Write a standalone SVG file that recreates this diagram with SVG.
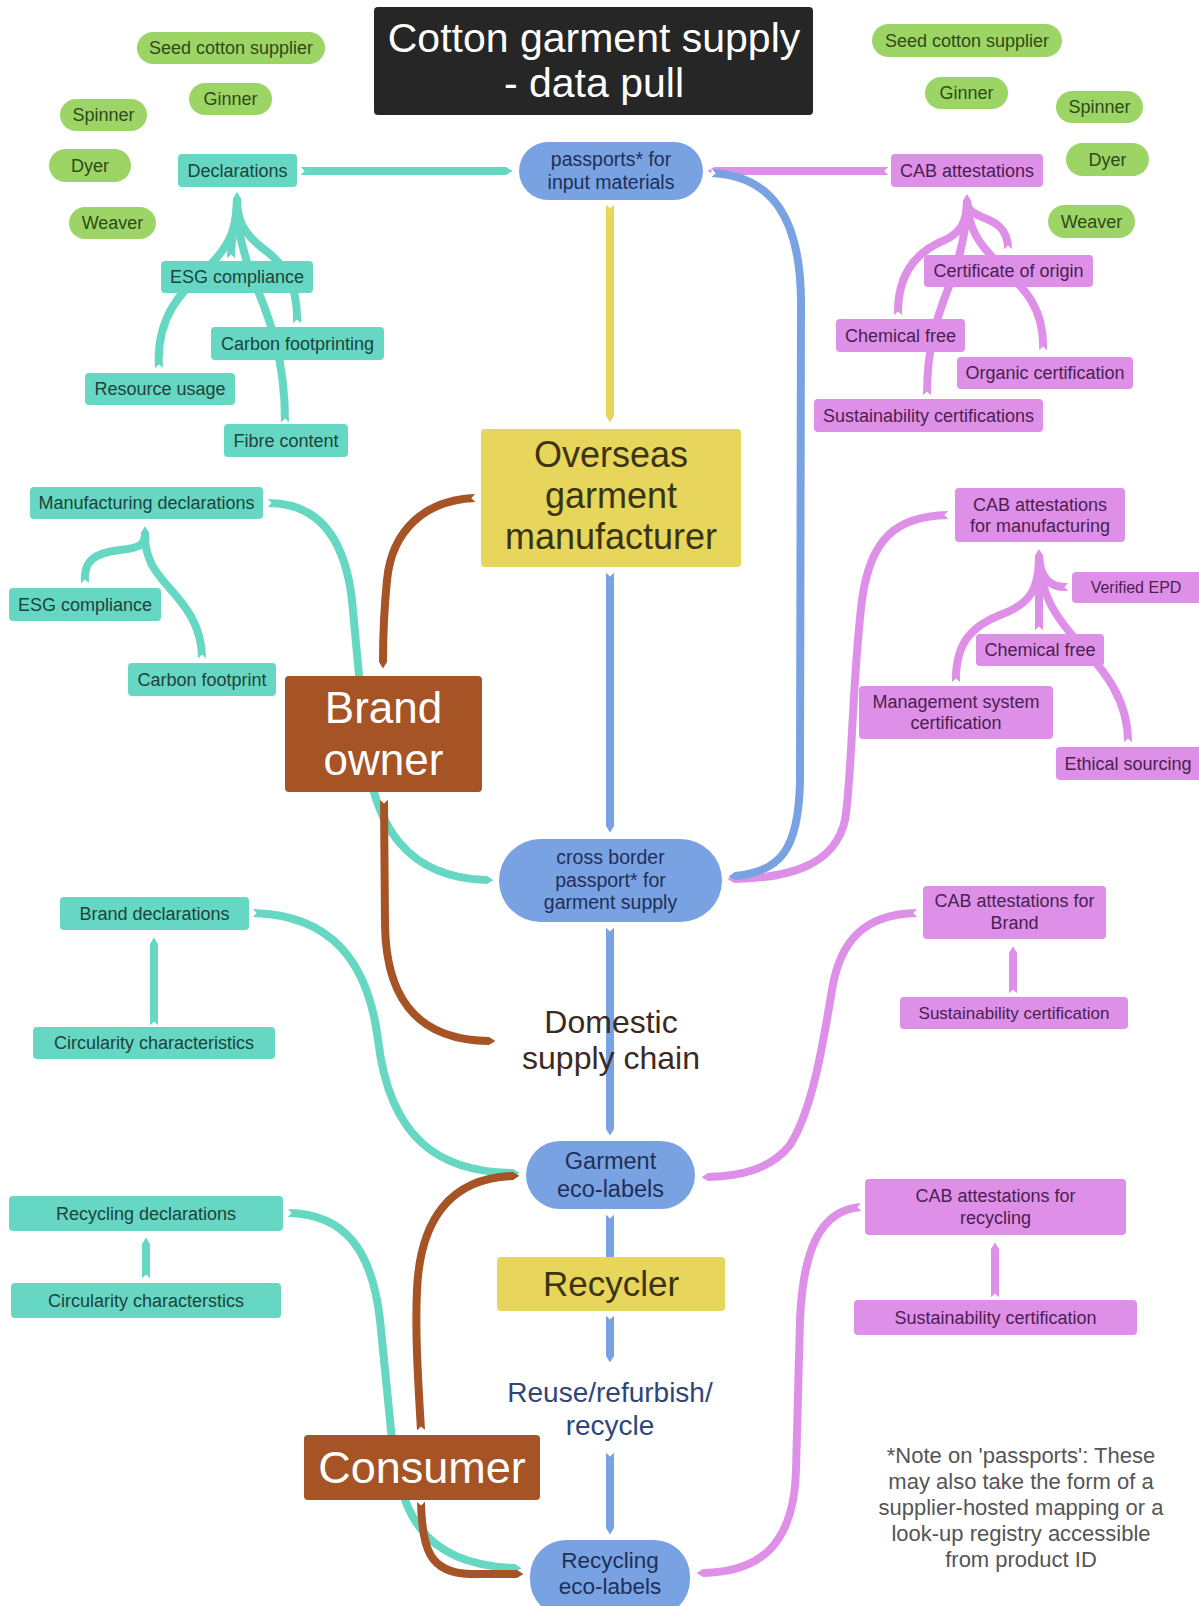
<svg xmlns="http://www.w3.org/2000/svg" width="1199" height="1606" viewBox="0 0 1199 1606">
<style>
text{font-family:'Liberation Sans',Arial,Helvetica,sans-serif;text-anchor:middle}
.ln{fill:none;stroke-width:8;stroke-linecap:butt;stroke-linejoin:round;marker-start:url(#nt)}
.t{stroke:#66d7c2;marker-end:url(#pt)}
.p{stroke:#de90e8;marker-end:url(#pp)}
.b{stroke:#79a2e3;marker-end:url(#pb)}
.y{stroke:#e8d55b;marker-end:url(#py)}
.r{stroke:#a65325;marker-end:url(#pr)}
.gn rect{fill:#9cd565}.gn text{fill:#2d4a18;font-size:18px}
.tn rect{fill:#66d7c2}.tn text{fill:#1d433d;font-size:18px}
.pn rect{fill:#de90e8}.pn text{fill:#4a2050;font-size:18px}
.bn rect{fill:#79a2e3}.bn text{fill:#1f2f57}
.yn rect{fill:#e8d55b}.yn text{fill:#3b3412}
.rn rect{fill:#a65325}.rn text{fill:#ffffff}
</style>
<defs>
<marker id="nt" viewBox="-0.1 -0.6 0.7 1.2" refX="0" refY="0" markerWidth="0.7" markerHeight="1.2" orient="auto" markerUnits="strokeWidth" overflow="visible"><path d="M-0.08,-0.56 L0.45,0 L-0.08,0.56 Z" fill="#ffffff"/></marker>
<marker id="pt" viewBox="-0.1 -0.5 0.9 1" refX="0" refY="0" markerWidth="0.9" markerHeight="1" orient="auto" markerUnits="strokeWidth" overflow="visible"><path d="M-0.1,-0.5 L0,-0.5 L0.8,0 L0,0.5 L-0.1,0.5 Z" fill="#66d7c2"/></marker>
<marker id="pp" viewBox="-0.1 -0.5 0.9 1" refX="0" refY="0" markerWidth="0.9" markerHeight="1" orient="auto" markerUnits="strokeWidth" overflow="visible"><path d="M-0.1,-0.5 L0,-0.5 L0.8,0 L0,0.5 L-0.1,0.5 Z" fill="#de90e8"/></marker>
<marker id="pb" viewBox="-0.1 -0.5 0.9 1" refX="0" refY="0" markerWidth="0.9" markerHeight="1" orient="auto" markerUnits="strokeWidth" overflow="visible"><path d="M-0.1,-0.5 L0,-0.5 L0.8,0 L0,0.5 L-0.1,0.5 Z" fill="#79a2e3"/></marker>
<marker id="py" viewBox="-0.1 -0.5 0.9 1" refX="0" refY="0" markerWidth="0.9" markerHeight="1" orient="auto" markerUnits="strokeWidth" overflow="visible"><path d="M-0.1,-0.5 L0,-0.5 L0.8,0 L0,0.5 L-0.1,0.5 Z" fill="#e8d55b"/></marker>
<marker id="pr" viewBox="-0.1 -0.5 0.9 1" refX="0" refY="0" markerWidth="0.9" markerHeight="1" orient="auto" markerUnits="strokeWidth" overflow="visible"><path d="M-0.1,-0.5 L0,-0.5 L0.8,0 L0,0.5 L-0.1,0.5 Z" fill="#a65325"/></marker>
</defs>
<rect width="1199" height="1606" fill="#ffffff"/>

<g id="connectors">
<!-- teal -->
<path class="ln t" d="M301,171 L506,171"/>
<path class="ln t" d="M231,258 C231,232 237,222 237,199"/>
<path class="ln t" d="M159,368 C155,310 190,285 210,265 C232,243 237,225 237,199"/>
<path class="ln t" d="M285,422 C285,340 260,300 248,265 C240,240 237,225 237,199"/>
<path class="ln t" d="M297,323 C298,285 285,265 265,250 C245,235 237,222 237,199"/>
<path class="ln t" d="M268,503 C320,503 345,540 352,600 L365,740 C372,830 410,878 487,880"/>
<path class="ln t" d="M85,583 C83,560 95,553 120,550 C140,548 145,545 145,533"/>
<path class="ln t" d="M202,658 C202,610 165,590 152,565 C146,552 145,545 145,533"/>
<path class="ln t" d="M253,913 C330,915 368,960 378,1040 C390,1140 440,1172 513,1173"/>
<path class="ln t" d="M154,1025 L154,944"/>
<path class="ln t" d="M288,1213 C345,1214 372,1250 380,1320 L391,1430 C398,1510 420,1565 515,1568"/>
<path class="ln t" d="M146,1278 L146,1244"/>
<!-- pink -->
<path class="ln p" d="M888,171 L714,171"/>
<path class="ln p" d="M1008,249 C1008,228 995,222 982,217 C970,212 967,208 967,201"/>
<path class="ln p" d="M898,315 C897,270 920,250 945,240 C962,232 967,220 967,201"/>
<path class="ln p" d="M1043,350 C1045,305 1020,285 1000,265 C980,245 968,230 967,201"/>
<path class="ln p" d="M927,395 C927,330 945,300 955,270 C963,245 967,225 967,201"/>
<path class="ln p" d="M948,515 C895,516 870,540 862,600 C852,680 852,780 845,820 C835,865 790,878 734,879"/>
<path class="ln p" d="M1068,587 C1050,588 1040,578 1039,556"/>
<path class="ln p" d="M1039,630 L1039,556"/>
<path class="ln p" d="M956,682 C955,640 975,625 1000,615 C1030,604 1039,590 1039,556"/>
<path class="ln p" d="M1128,742 C1128,700 1105,672 1085,650 C1055,617 1040,595 1039,556"/>
<path class="ln p" d="M917,913 C865,914 840,940 832,990 C822,1050 812,1110 790,1145 C770,1170 740,1176 708,1177"/>
<path class="ln p" d="M1013,993 L1013,953"/>
<path class="ln p" d="M861,1207 C820,1210 803,1250 800,1320 L796,1470 C794,1545 760,1572 703,1573"/>
<path class="ln p" d="M995,1297 L995,1249"/>
<!-- blue -->
<path class="ln b" d="M712,173 C770,176 800,215 801,300 L800,780 C799,850 780,872 735,876"/>
<path class="ln b" d="M610,573 L610,826"/>
<path class="ln b" d="M610,928 L610,1129"/>
<path class="ln b" d="M610,1215 L610,1257"/>
<path class="ln b" d="M610,1316 L610,1356"/>
<path class="ln b" d="M610,1453 L610,1528"/>
<!-- yellow -->
<path class="ln y" d="M610,205 L610,416"/>
<!-- brown -->
<path class="ln r" d="M475,498 C425,500 392,530 387,580 C384,610 383,640 383,662"/>
<path class="ln r" d="M384,800 L385,925 C386,990 410,1040 489,1041"/>
<path class="ln r" d="M421,1430 C418,1380 415,1330 417,1290 C420,1220 450,1178 513,1176"/>
<path class="ln r" d="M421,1502 C422,1550 430,1573 470,1574 L517,1574"/>
</g>

<g id="title"><rect x="374" y="7" width="439" height="108" rx="4" fill="#262626"/><text x="594" y="52" font-size="41" fill="#ffffff">Cotton garment supply</text><text x="594" y="97" font-size="41" fill="#ffffff">- data pull</text></g>

<g id="seed-l" class="gn"><rect x="137" y="32" width="188" height="32" rx="16"/><text x="231" y="54">Seed cotton supplier</text></g>
<g id="ginner-l" class="gn"><rect x="189" y="83" width="83" height="32" rx="16"/><text x="230.5" y="105">Ginner</text></g>
<g id="spinner-l" class="gn"><rect x="60" y="99" width="87" height="32" rx="16"/><text x="103.5" y="121">Spinner</text></g>
<g id="dyer-l" class="gn"><rect x="49" y="149" width="82" height="33" rx="16.5"/><text x="90" y="171.5">Dyer</text></g>
<g id="weaver-l" class="gn"><rect x="69" y="207" width="87" height="32" rx="16"/><text x="112.5" y="229">Weaver</text></g>
<g id="seed-r" class="gn"><rect x="872" y="24" width="190" height="33" rx="16.5"/><text x="967" y="46.5">Seed cotton supplier</text></g>
<g id="ginner-r" class="gn"><rect x="925" y="77" width="83" height="32" rx="16"/><text x="966.5" y="99">Ginner</text></g>
<g id="spinner-r" class="gn"><rect x="1056" y="91" width="87" height="32" rx="16"/><text x="1099.5" y="113">Spinner</text></g>
<g id="dyer-r" class="gn"><rect x="1066" y="143" width="83" height="33" rx="16.5"/><text x="1107.5" y="165.5">Dyer</text></g>
<g id="weaver-r" class="gn"><rect x="1048" y="205" width="87" height="33" rx="16.5"/><text x="1091.5" y="227.5">Weaver</text></g>

<g id="declarations" class="tn"><rect x="178" y="154" width="119" height="33" rx="4"/><text x="237.5" y="176.5">Declarations</text></g>
<g id="esg1" class="tn"><rect x="161" y="261" width="152" height="32" rx="4"/><text x="237" y="283">ESG compliance</text></g>
<g id="carbon1" class="tn"><rect x="211" y="327" width="173" height="33" rx="4"/><text x="297.5" y="349.5">Carbon footprinting</text></g>
<g id="resource" class="tn"><rect x="85" y="373" width="150" height="32" rx="4"/><text x="160" y="395">Resource usage</text></g>
<g id="fibre" class="tn"><rect x="224" y="424" width="124" height="33" rx="4"/><text x="286" y="446.5">Fibre content</text></g>
<g id="mfg-decl" class="tn"><rect x="30" y="487" width="233" height="32" rx="4"/><text x="146.5" y="509">Manufacturing declarations</text></g>
<g id="esg2" class="tn"><rect x="9" y="588" width="152" height="33" rx="4"/><text x="85" y="610.5">ESG compliance</text></g>
<g id="carbon2" class="tn"><rect x="128" y="663" width="148" height="33" rx="4"/><text x="202" y="685.5">Carbon footprint</text></g>
<g id="brand-decl" class="tn"><rect x="60" y="897" width="189" height="33" rx="4"/><text x="154.5" y="919.5">Brand declarations</text></g>
<g id="circ1" class="tn"><rect x="33" y="1027" width="242" height="32" rx="4"/><text x="154" y="1049">Circularity characteristics</text></g>
<g id="recyc-decl" class="tn"><rect x="9" y="1196" width="274" height="35" rx="4"/><text x="146" y="1220">Recycling declarations</text></g>
<g id="circ2" class="tn"><rect x="11" y="1283" width="270" height="35" rx="4"/><text x="146" y="1307">Circularity characterstics</text></g>

<g id="cab1" class="pn"><rect x="891" y="154" width="152" height="33" rx="4"/><text x="967" y="176.5">CAB attestations</text></g>
<g id="origin" class="pn"><rect x="924" y="255" width="169" height="32" rx="4"/><text x="1008.5" y="277">Certificate of origin</text></g>
<g id="chem1" class="pn"><rect x="836" y="319" width="129" height="33" rx="4"/><text x="900.5" y="341.5">Chemical free</text></g>
<g id="organic" class="pn"><rect x="957" y="357" width="176" height="32" rx="4"/><text x="1045" y="379">Organic certification</text></g>
<g id="sust1" class="pn"><rect x="814" y="399" width="229" height="33" rx="4"/><text x="928.5" y="421.5">Sustainability certifications</text></g>
<g id="cab-mfg" class="pn"><rect x="955" y="488" width="170" height="54" rx="4"/><text x="1040" y="511">CAB attestations</text><text x="1040" y="532">for manufacturing</text></g>
<g id="epd" class="pn"><rect x="1072" y="572" width="135" height="31" rx="4"/><text x="1136" y="593" style="font-size:16px">Verified EPD</text></g>
<g id="chem2" class="pn"><rect x="976" y="634" width="128" height="32" rx="4"/><text x="1040" y="656">Chemical free</text></g>
<g id="mgmt" class="pn"><rect x="859" y="686" width="194" height="53" rx="4"/><text x="956" y="708">Management system</text><text x="956" y="729">certification</text></g>
<g id="ethical" class="pn"><rect x="1056" y="747" width="150" height="33" rx="4"/><text x="1128" y="770">Ethical sourcing</text></g>
<g id="cab-brand" class="pn"><rect x="923" y="886" width="183" height="53" rx="4"/><text x="1014.5" y="907">CAB attestations for</text><text x="1014.5" y="929">Brand</text></g>
<g id="sust2" class="pn"><rect x="900" y="997" width="228" height="32" rx="4"/><text x="1014" y="1019" style="font-size:17px">Sustainability certification</text></g>
<g id="cab-recyc" class="pn"><rect x="865" y="1179" width="261" height="56" rx="4"/><text x="995.5" y="1202">CAB attestations for</text><text x="995.5" y="1224">recycling</text></g>
<g id="sust3" class="pn"><rect x="854" y="1300" width="283" height="35" rx="4"/><text x="995.5" y="1324">Sustainability certification</text></g>

<g id="passports" class="bn"><rect x="519" y="142" width="184" height="58" rx="29"/><text x="611" y="166" font-size="19.5">passports* for</text><text x="611" y="189" font-size="19.5">input materials</text></g>
<g id="cross-border" class="bn"><rect x="499" y="839" width="223" height="83" rx="41.5"/><text x="610.5" y="864" font-size="19.5">cross border</text><text x="610.5" y="887" font-size="19.5">passport* for</text><text x="610.5" y="909" font-size="19.5">garment supply</text></g>
<g id="garment-eco" class="bn"><rect x="526" y="1141" width="169" height="68" rx="34"/><text x="610.5" y="1169" font-size="23.5">Garment</text><text x="610.5" y="1197" font-size="23.5">eco-labels</text></g>
<g id="recycling-eco" class="bn"><rect x="530" y="1540" width="160" height="76" rx="36"/><text x="610" y="1568" font-size="22.5">Recycling</text><text x="610" y="1594" font-size="22.5">eco-labels</text></g>

<g id="overseas" class="yn"><rect x="481" y="429" width="260" height="138" rx="4"/><text x="611" y="467" font-size="36">Overseas</text><text x="611" y="508" font-size="36">garment</text><text x="611" y="549" font-size="36">manufacturer</text></g>
<g id="recycler" class="yn"><rect x="497" y="1257" width="228" height="54" rx="4"/><text x="611" y="1296" font-size="35">Recycler</text></g>

<g id="brand-owner" class="rn"><rect x="285" y="676" width="197" height="116" rx="4"/><text x="383.5" y="723" font-size="44">Brand</text><text x="383.5" y="775" font-size="44">owner</text></g>
<g id="consumer" class="rn"><rect x="304" y="1435" width="236" height="65" rx="4"/><text x="422" y="1483" font-size="45">Consumer</text></g>

<g id="domestic"><text x="611" y="1033" font-size="32" fill="#3c2a1e">Domestic</text><text x="611" y="1069" font-size="32" fill="#3c2a1e">supply chain</text></g>
<g id="reuse"><text x="610" y="1402" font-size="28" fill="#2f4677">Reuse/refurbish/</text><text x="610" y="1435" font-size="28" fill="#2f4677">recycle</text></g>
<g id="note" font-size="22" fill="#555555"><text x="1021" y="1463">*Note on 'passports': These</text><text x="1021" y="1489">may also take the form of a</text><text x="1021" y="1515">supplier-hosted mapping or a</text><text x="1021" y="1541">look-up registry accessible</text><text x="1021" y="1567">from product ID</text></g>
</svg>
